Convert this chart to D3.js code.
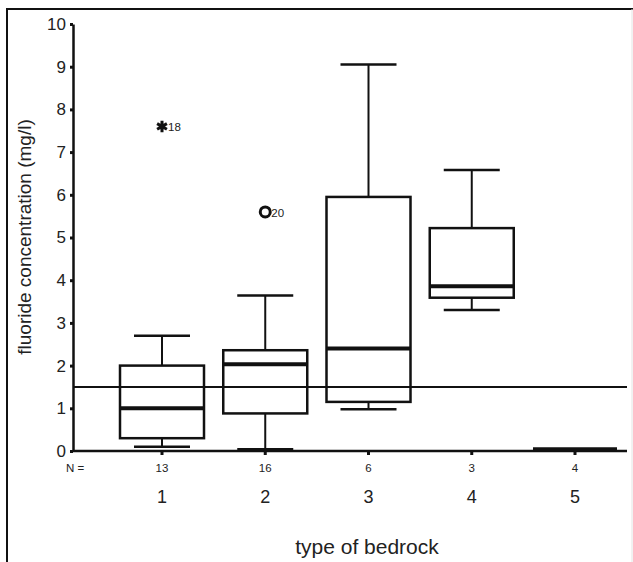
<!DOCTYPE html>
<html>
<head>
<meta charset="utf-8">
<script src="https://cdn.jsdelivr.net/npm/d3@7"></script>
<style>
  body { margin: 0; background: #fff; }
  svg { display: block; font-family: Arial, "Liberation Sans", sans-serif; }
</style>
</head>
<body>
<div id="chart"></div>
<script>
// Fluoride concentration by type of bedrock (box plots)
const categories = [1, 2, 3, 4, 5];
const nCounts = [13, 16, 6, 3, 4];
const whiskerLow = [0.1, 0.04, 0.98, 3.3, 0.04];
const q1 = [0.3, 0.88, 1.15, 3.59, 0.04];
const median = [1.0, 2.03, 2.4, 3.86, 0.04];
const q3 = [2.0, 2.36, 5.95, 5.22, 0.04];
const whiskerHigh = [2.7, 3.64, 9.05, 6.58, 0.04];
const outlierCats = [1, 2];
const outlierValues = [7.6, 5.6];
const outlierLabels = ['18', '20'];
const outlierKinds = ['extreme', 'outlier'];
const guideValue = 1.5;
const yTicks = [0, 1, 2, 3, 4, 5, 6, 7, 8, 9, 10];

const W = 633, H = 562;
const axisLeft = 73, axisRight = 627, axisBottom = 451, axisTop = 24;
const boxW = 84, capW = 56;

const svg = d3.select('#chart').append('svg')
  .attr('width', W)
  .attr('height', H);

// outer frame (left and top edges of the figure panel)
svg.append('line')
  .attr('x1', 7).attr('x2', 7).attr('y1', 8).attr('y2', H)
  .attr('stroke', '#111').attr('stroke-width', 2);
svg.append('line')
  .attr('x1', 6).attr('x2', W).attr('y1', 9).attr('y2', 9)
  .attr('stroke', '#111').attr('stroke-width', 2);
svg.append('line')
  .attr('x1', 632).attr('x2', 632).attr('y1', 9).attr('y2', H)
  .attr('stroke', '#e4e4e4').attr('stroke-width', 1);

const x = d3.scaleLinear().domain([1, 5]).range([162, 575]);
const y = d3.scaleLinear().domain([0, 10]).range([axisBottom, axisTop]);

// y axis
const yAxis = d3.axisLeft(y).tickValues(yTicks).tickSize(3).tickPadding(4).tickSizeOuter(0);
const gy = svg.append('g')
  .attr('transform', `translate(${axisLeft},0)`)
  .call(yAxis);
gy.select('.domain').attr('stroke', '#111').attr('stroke-width', 2.5);
gy.selectAll('.tick line').attr('stroke', '#111').attr('stroke-width', 3);
gy.selectAll('.tick text')
  .attr('font-size', 17)
  .attr('fill', '#222')
  .attr('font-family', 'Arial, "Liberation Sans", sans-serif');

// x baseline
svg.append('line')
  .attr('x1', axisLeft).attr('x2', axisRight)
  .attr('y1', y(0)).attr('y2', y(0))
  .attr('stroke', '#111').attr('stroke-width', 2.5);

// x ticks (small marks below baseline)
svg.selectAll('.xtick')
  .data(categories)
  .enter().append('rect')
  .attr('class', 'xtick')
  .attr('x', d => x(d) - 1.5)
  .attr('y', y(0))
  .attr('width', 3)
  .attr('height', 4)
  .attr('fill', '#111');

// N = counts
svg.append('text')
  .attr('x', 75).attr('y', 472)
  .attr('text-anchor', 'middle')
  .attr('font-size', 11.5)
  .attr('fill', '#222')
  .text('N =');
svg.selectAll('.ncount')
  .data(categories)
  .enter().append('text')
  .attr('class', 'ncount')
  .attr('x', d => x(d))
  .attr('y', 472)
  .attr('text-anchor', 'middle')
  .attr('font-size', 11.5)
  .attr('fill', '#222')
  .text((d, i) => nCounts[i]);

// category labels
svg.selectAll('.catlabel')
  .data(categories)
  .enter().append('text')
  .attr('class', 'catlabel')
  .attr('x', d => x(d))
  .attr('y', 503)
  .attr('text-anchor', 'middle')
  .attr('font-size', 18)
  .attr('fill', '#222')
  .text(d => d);

// axis titles
svg.append('text')
  .attr('x', 367).attr('y', 554)
  .attr('text-anchor', 'middle')
  .attr('font-size', 21)
  .attr('fill', '#222')
  .text('type of bedrock');

svg.append('text')
  .attr('transform', 'translate(31,237) rotate(-90)')
  .attr('text-anchor', 'middle')
  .attr('font-size', 19)
  .attr('fill', '#222')
  .text('fluoride concentration (mg/l)');

// reference line (guideline value)
svg.append('line')
  .attr('x1', axisLeft).attr('x2', axisRight)
  .attr('y1', y(guideValue)).attr('y2', y(guideValue))
  .attr('stroke', '#111').attr('stroke-width', 2);

// boxes
const boxes = svg.selectAll('.box')
  .data(categories)
  .enter().append('g')
  .attr('class', 'box');

// whisker stems
boxes.append('line')
  .attr('x1', d => x(d)).attr('x2', d => x(d))
  .attr('y1', (d, i) => y(whiskerHigh[i]))
  .attr('y2', (d, i) => y(q3[i]))
  .attr('stroke', '#111').attr('stroke-width', 2);
boxes.append('line')
  .attr('x1', d => x(d)).attr('x2', d => x(d))
  .attr('y1', (d, i) => y(q1[i]))
  .attr('y2', (d, i) => y(whiskerLow[i]))
  .attr('stroke', '#111').attr('stroke-width', 2);

// whisker caps
boxes.append('line')
  .attr('x1', d => x(d) - capW / 2).attr('x2', d => x(d) + capW / 2)
  .attr('y1', (d, i) => y(whiskerHigh[i]))
  .attr('y2', (d, i) => y(whiskerHigh[i]))
  .attr('stroke', '#111').attr('stroke-width', 2.5);
boxes.append('line')
  .attr('x1', d => x(d) - capW / 2).attr('x2', d => x(d) + capW / 2)
  .attr('y1', (d, i) => y(whiskerLow[i]))
  .attr('y2', (d, i) => y(whiskerLow[i]))
  .attr('stroke', '#111').attr('stroke-width', 2.5);

// box body
boxes.append('rect')
  .attr('x', d => x(d) - boxW / 2)
  .attr('y', (d, i) => y(q3[i]))
  .attr('width', boxW)
  .attr('height', (d, i) => Math.max(0, y(q1[i]) - y(q3[i])))
  .attr('fill', 'none')
  .attr('stroke', '#111').attr('stroke-width', 2.5);

// median
boxes.append('line')
  .attr('x1', d => x(d) - boxW / 2).attr('x2', d => x(d) + boxW / 2)
  .attr('y1', (d, i) => y(median[i]))
  .attr('y2', (d, i) => y(median[i]))
  .attr('stroke', '#111').attr('stroke-width', 4);

// outliers
const outs = svg.selectAll('.outlier')
  .data(outlierCats)
  .enter().append('g')
  .attr('class', 'outlier')
  .attr('transform', (d, i) => `translate(${x(d)},${y(outlierValues[i])})`);

outs.filter((d, i) => outlierKinds[i] === 'extreme')
  .append('path')
  .attr('d', d3.symbol(d3.symbolAsterisk, 90))
  .attr('stroke', '#111').attr('stroke-width', 3).attr('fill', 'none');

outs.filter((d, i) => outlierKinds[i] === 'outlier')
  .append('circle')
  .attr('r', 5)
  .attr('fill', 'none')
  .attr('stroke', '#111').attr('stroke-width', 3);

outs.append('text')
  .attr('x', 6).attr('y', 5)
  .attr('font-size', 11.5)
  .attr('fill', '#222')
  .text((d, i) => outlierLabels[i]);
</script>
</body>
</html>
